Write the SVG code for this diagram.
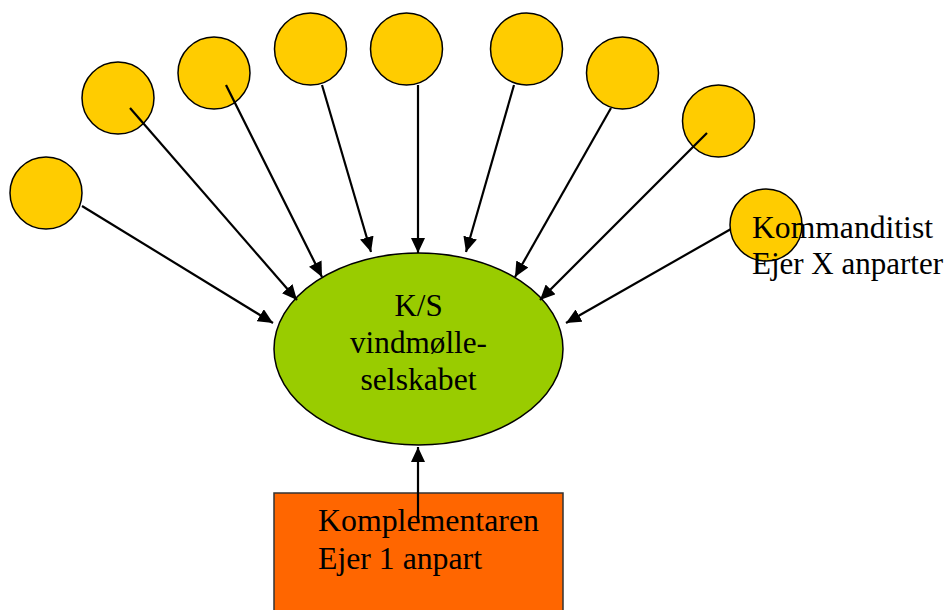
<svg xmlns="http://www.w3.org/2000/svg" width="948" height="610" viewBox="0 0 948 610">
<style>
.own{fill:#FFCC00;stroke:#000;stroke-width:1.5}
.ks{fill:#99CC00;stroke:#000;stroke-width:1.5}
.box{fill:#FF6600;stroke:#333;stroke-width:1.5}
.con line{stroke:#000;stroke-width:2.2;marker-end:url(#ah)}
text{font-family:"Liberation Serif","Times New Roman",serif;font-size:31px;fill:#000}
</style>
<defs>
<marker id="ah" markerUnits="userSpaceOnUse" markerWidth="16" markerHeight="14" refX="15" refY="7" orient="auto">
<path d="M0,0 L15,7 L0,14 Z" fill="#000"/>
</marker>
</defs>
<rect width="948" height="610" fill="#fff"/>
<g id="ks">
<ellipse class="ks" cx="418.5" cy="349" rx="144.5" ry="96"/>
<text x="418.5" y="316" text-anchor="middle">K/S</text>
<text x="418.5" y="353" text-anchor="middle" textLength="137" lengthAdjust="spacingAndGlyphs">vindmølle-</text>
<text x="418.5" y="390" text-anchor="middle" textLength="116" lengthAdjust="spacingAndGlyphs">selskabet</text>
</g>
<g id="komplementar">
<rect class="box" x="274" y="493" width="289" height="130"/>
</g>
<g id="k1"><circle class="own" cx="46" cy="193" r="36"/></g>
<g id="k2"><circle class="own" cx="118" cy="98" r="36"/></g>
<g id="k3"><circle class="own" cx="214" cy="73" r="36"/></g>
<g id="k4"><circle class="own" cx="310.5" cy="49" r="36"/></g>
<g id="k5"><circle class="own" cx="406.5" cy="49" r="36"/></g>
<g id="k6"><circle class="own" cx="526.5" cy="49" r="36"/></g>
<g id="k7"><circle class="own" cx="622.5" cy="73" r="36"/></g>
<g id="k8"><circle class="own" cx="718.5" cy="121" r="36"/></g>
<g class="con" id="connectors">
<line x1="82" y1="206" x2="273" y2="323"/>
<line x1="130" y1="108" x2="297" y2="300"/>
<line x1="226" y1="85" x2="322" y2="277"/>
<line x1="322" y1="85" x2="371" y2="252"/>
<line x1="418" y1="85" x2="418" y2="253"/>
<line x1="514" y1="85" x2="466" y2="252"/>
<line x1="611" y1="108" x2="515" y2="277"/>
<line x1="707" y1="133" x2="540" y2="300"/>
<line x1="731" y1="229" x2="566" y2="323"/>
<line x1="418" y1="520" x2="418" y2="447"/>
</g>
<g id="k9">
<circle class="own" cx="766" cy="225" r="36"/>
<text x="752" y="238" textLength="181" lengthAdjust="spacingAndGlyphs">Kommanditist</text>
<text x="752" y="274" textLength="191" lengthAdjust="spacingAndGlyphs">Ejer X anparter</text>
</g>
<g id="komplementar-label">
<text x="318" y="531" textLength="221" lengthAdjust="spacingAndGlyphs">Komplementaren</text>
<text x="318" y="569" textLength="164" lengthAdjust="spacingAndGlyphs">Ejer 1 anpart</text>
</g>
</svg>
